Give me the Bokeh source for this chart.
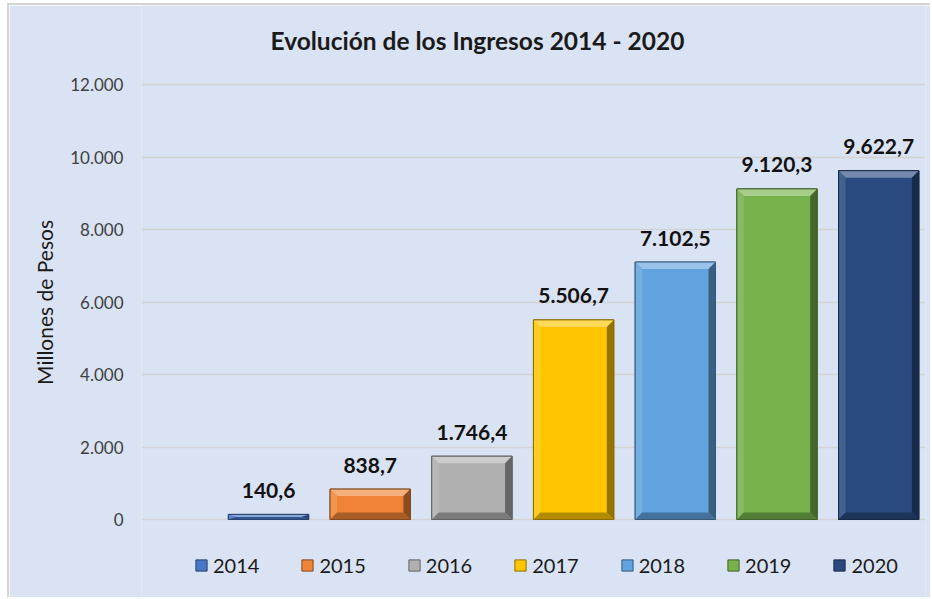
from bokeh.plotting import figure
from bokeh.models import Range1d, ColumnDataSource, Legend, LegendItem, FixedTicker, Label
from bokeh.embed import file_html
from bokeh.resources import INLINE
from bokeh.core.properties import value

# ---- data ----
years = ["2014", "2015", "2016", "2017", "2018", "2019", "2020"]
ingresos = [140.6, 838.7, 1746.4, 5506.7, 7102.5, 9120.3, 9622.7]
value_labels = ["140,6", "838,7", "1.746,4", "5.506,7", "7.102,5", "9.120,3", "9.622,7"]
colors = ["#4a78c8", "#f08436", "#b0b0b0", "#ffc600", "#62a3df", "#77b24d", "#2a4a7f"]
y_ticks = [0, 2000, 4000, 6000, 8000, 10000, 12000]
y_tick_labels = ["0", "2.000", "4.000", "6.000", "8.000", "10.000", "12.000"]
title_text = "Evolución de los Ingresos 2014 - 2020"

FONT = "Lato"
BG = "#dae3f3"
K = 12000 / 435  # data units per pixel


def mix(hex_color, other, t):
    c = [int(hex_color[i:i + 2], 16) for i in (1, 3, 5)]
    o = [int(other[i:i + 2], 16) for i in (1, 3, 5)]
    m = [round(a + (b - a) * t) for a, b in zip(c, o)]
    return "#%02x%02x%02x" % tuple(m)


p = figure(width=923, height=594, output_backend="svg", toolbar_location=None,
           x_range=Range1d(-1.249, 6.46), y_range=Range1d(-80 * K, 12000 + 79 * K),
           min_border_left=132, min_border_right=7, min_border_top=0, min_border_bottom=0,
           background_fill_color=BG, border_fill_color=BG, outline_line_color=None)
p.styles = {"margin-left": "7px", "margin-top": "3px",
            "border-left": "2px solid #d4d4d4", "border-top": "2px solid #d4d4d4"}

p.add_layout(Label(x=129, x_units="screen", y=12000 + 44 * K, text=title_text,
                   text_baseline="middle", text_align="left", text_font=FONT,
                   text_font_size="24.5px", text_font_style="bold", text_color="#1a1a1a"))

xs = list(range(len(years)))
bar_w = 0.79
src = ColumnDataSource(dict(x=xs, top=ingresos, year=years, color=colors,
                            edge=[mix(c, "#000000", 0.45) for c in colors],
                            label=value_labels))

bars = p.vbar(x="x", top="top", width=bar_w, source=src, fill_color="color",
              line_color="edge", line_width=1)

# bevel bands
bx = 7 / 101.7
by_full = 7 * K
pxs, pys, pcol = [], [], []
for x, v, c in zip(xs, ingresos, colors):
    x0, x1 = x - bar_w / 2, x + bar_w / 2
    by = min(by_full, v / 2)
    pxs.append([x0, x1, x1 - bx, x0 + bx]); pys.append([v, v, v - by, v - by]); pcol.append(mix(c, "#ffffff", 0.35))
    pxs.append([x0, x0, x0 + bx, x0 + bx]); pys.append([0, v, v - by, by]); pcol.append(mix(c, "#ffffff", 0.12))
    pxs.append([x1, x1, x1 - bx, x1 - bx]); pys.append([0, v, v - by, by]); pcol.append(mix(c, "#000000", 0.42))
    pxs.append([x0, x1, x1 - bx, x0 + bx]); pys.append([0, 0, by, by]); pcol.append(mix(c, "#000000", 0.3))
p.patches(xs=pxs, ys=pys, fill_color=pcol, line_color=None)
p.vbar(x="x", top="top", width=bar_w, source=src, fill_color=None,
       line_color="edge", line_width=1)

p.text(x="x", y="top", text="label", source=src, text_align="center",
       text_baseline="alphabetic", y_offset=-24, text_font=value(FONT),
       text_font_size="21px", text_font_style="bold", text_color="#111111")

# axes
p.xaxis.visible = False
p.xgrid.visible = False
p.yaxis.ticker = FixedTicker(ticks=y_ticks)
p.yaxis.major_label_overrides = {t: l for t, l in zip(y_ticks, y_tick_labels)}
p.yaxis.axis_line_color = None
p.yaxis.major_tick_line_color = None
p.yaxis.minor_tick_line_color = None
p.yaxis.major_tick_out = 0
p.yaxis.major_label_standoff = 18
p.yaxis.major_label_text_font = FONT
p.yaxis.major_label_text_font_size = "17px"
p.yaxis.major_label_text_color = "#404040"
p.yaxis.axis_label = "Millones de Pesos"
p.yaxis.axis_label_text_font = FONT
p.yaxis.axis_label_text_font_size = "21px"
p.yaxis.axis_label_text_font_style = "normal"
p.yaxis.axis_label_text_color = "#1a1a1a"
p.yaxis.axis_label_standoff = 10
p.ygrid.grid_line_color = "#d3d3d3"
p.ygrid.grid_line_width = 1.5

legend = Legend(items=[LegendItem(label=y, renderers=[bars], index=i) for i, y in enumerate(years)],
                orientation="horizontal", location=(53, 22), margin=0, padding=0, spacing=41,
                glyph_width=14, glyph_height=14, label_standoff=5,
                label_text_font=FONT, label_text_font_size="20px", label_text_color="#1a1a1a",
                background_fill_alpha=0, border_line_color=None)
p.add_layout(legend, "center")

open("out.html", "w").write(file_html(p, INLINE))
